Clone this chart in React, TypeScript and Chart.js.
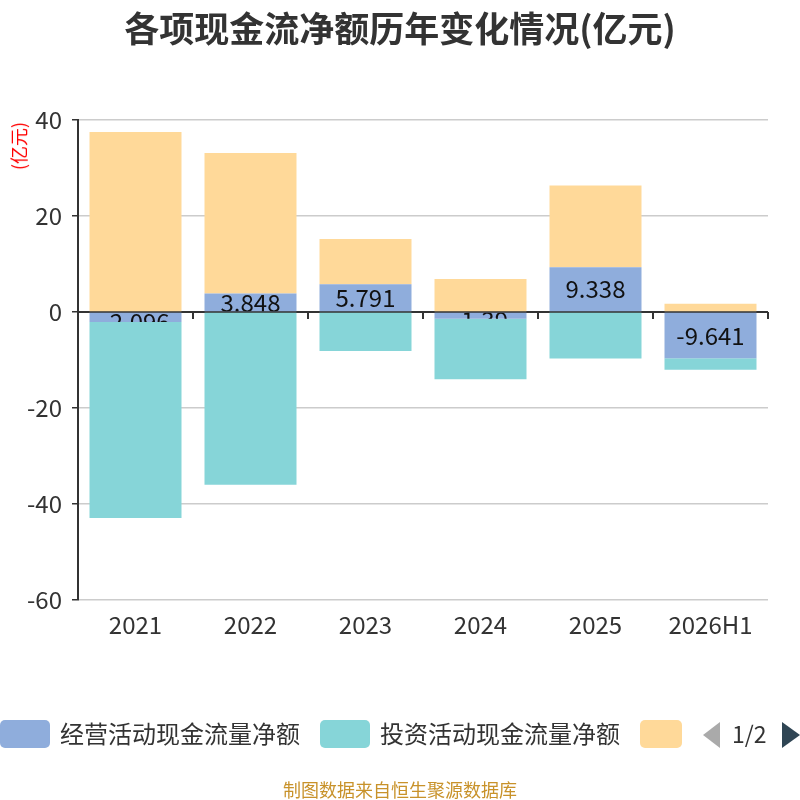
import React, { useEffect, useRef } from 'react';
import { Chart, registerables } from 'chart.js';

Chart.register(...registerables);

const years = ['2021', '2022', '2023', '2024', '2025', '2026H1'];
const operating = [-2.096, 3.848, 5.791, -1.39, 9.338, -9.641];
const investing = [-40.8, -36.0, -8.1, -12.6, -9.7, -2.4];
const financing = [37.5, 29.3, 9.4, 6.9, 17.0, 1.7];
const yTicks = [40, 20, 0, -20, -40, -60];

const seriesNames = ['经营活动现金流量净额', '投资活动现金流量净额', '筹资活动现金流量净额'];
const colors = ['#8FADDC', '#86D5D8', '#FFD999'];

const FONT = '"Noto Sans CJK SC", "Noto Sans", sans-serif';

const barLabels = {
    id: 'barLabels',
    afterDatasetsDraw(chart: any) {
        const ctx = chart.ctx;
        const meta = chart.getDatasetMeta(0);
        meta.data.forEach((bar: any, i: number) => {
            const top = Math.min(bar.y, bar.base);
            const h = Math.abs(bar.y - bar.base);
            ctx.save();
            ctx.beginPath();
            ctx.rect(bar.x - bar.width / 2, top, bar.width, h);
            ctx.clip();
            ctx.fillStyle = '#111';
            ctx.font = '24px ' + FONT;
            ctx.textAlign = 'center';
            ctx.textBaseline = 'middle';
            ctx.fillText(String(operating[i]), bar.x, top + h / 2 + (h < 15 ? 4 : 0));
            ctx.restore();
        });
    },
};

const zeroLine = {
    id: 'zeroLine',
    beforeDatasetsDraw(chart: any) {
        const ctx = chart.ctx;
        const area = chart.chartArea;
        const y0 = chart.scales.y.getPixelForValue(0);
        ctx.save();
        ctx.strokeStyle = '#333';
        ctx.lineWidth = 2;
        ctx.beginPath();
        ctx.moveTo(area.left, y0);
        ctx.lineTo(area.right, y0);
        const step = (area.right - area.left) / years.length;
        for (let i = 1; i <= years.length; i++) {
            const x = Math.round(area.left + step * i);
            ctx.moveTo(x, y0);
            ctx.lineTo(x, y0 + 7);
        }
        ctx.stroke();
        ctx.restore();
    },
};

const App: React.FC = () => {
    const chartRef = useRef<HTMLCanvasElement | null>(null);

    useEffect(() => {
        if (!chartRef.current) return;
        const ctx = chartRef.current.getContext('2d');
        if (!ctx) return;
        const chart = new Chart(ctx, {
            type: 'bar',
            data: {
                labels: years,
                datasets: [operating, investing, financing].map((d, i) => ({
                    label: seriesNames[i],
                    data: d,
                    backgroundColor: colors[i],
                    borderWidth: 0,
                    categoryPercentage: 0.8,
                    barPercentage: 1,
                })),
            },
            options: {
                animation: false,
                responsive: false,
                maintainAspectRatio: false,
                layout: { padding: { left: 0, right: 32, top: 120, bottom: 0 } },
                plugins: {
                    legend: { display: false },
                    tooltip: { enabled: false },
                },
                scales: {
                    x: {
                        stacked: true,
                        grid: { display: false, drawTicks: false },
                        border: { display: false },
                        ticks: { color: '#333', font: { size: 24, family: FONT }, padding: 10 },
                        afterFit: (s: any) => {
                            s.height = 200;
                        },
                    },
                    y: {
                        stacked: true,
                        min: -60,
                        max: 40,
                        afterBuildTicks: (s: any) => {
                            s.ticks = yTicks.map((v) => ({ value: v }));
                        },
                        grid: { color: '#cccccc', lineWidth: 1.5, tickColor: '#333', tickLength: 6 },
                        border: { display: true, color: '#333', width: 2 },
                        ticks: { color: '#333', font: { size: 24, family: FONT }, padding: 10 },
                        afterFit: (s: any) => {
                            s.width = 78;
                        },
                    },
                },
            },
            plugins: [zeroLine, barLabels],
        });
        return () => {
            chart.destroy();
        };
    }, []);

    const legendText: React.CSSProperties = {
        position: 'absolute',
        top: 717,
        fontSize: 24,
        color: '#333',
        fontFamily: FONT,
        lineHeight: '32px',
        whiteSpace: 'nowrap',
    };
    const box = (left: number, width: number, color: string): React.CSSProperties => ({
        position: 'absolute',
        left,
        top: 720,
        width,
        height: 28,
        background: color,
        borderRadius: 5,
    });

    return (
        <div style={{ position: 'fixed', left: 0, top: 0, width: 800, height: 800, background: '#fff', overflow: 'hidden' }}>
            <canvas ref={chartRef} width={800} height={800} style={{ position: 'absolute', left: 0, top: 0 }} />
            <div
                style={{
                    position: 'absolute',
                    top: 1,
                    left: 0,
                    width: 800,
                    textAlign: 'center',
                    fontSize: 35,
                    fontWeight: 'bold',
                    color: '#333',
                    fontFamily: FONT,
                }}
            >
                各项现金流净额历年变化情况(亿元)
            </div>
            <div
                style={{
                    position: 'absolute',
                    left: 18,
                    top: 146,
                    transform: 'translate(-50%, -50%) rotate(-90deg)',
                    fontSize: 18,
                    color: '#ff0000',
                    fontFamily: FONT,
                    whiteSpace: 'nowrap',
                }}
            >
                (亿元)
            </div>
            <div style={box(0, 50, colors[0])} />
            <div style={{ ...legendText, left: 60 }}>{seriesNames[0]}</div>
            <div style={box(320, 50, colors[1])} />
            <div style={{ ...legendText, left: 380 }}>{seriesNames[1]}</div>
            <div style={box(640, 42, colors[2])} />
            <div
                style={{
                    position: 'absolute',
                    left: 703,
                    top: 722,
                    width: 0,
                    height: 0,
                    borderTop: '13px solid transparent',
                    borderBottom: '13px solid transparent',
                    borderRight: '17px solid #aaa',
                }}
            />
            <div style={{ ...legendText, left: 732, fontSize: 23 }}>1/2</div>
            <div
                style={{
                    position: 'absolute',
                    left: 782,
                    top: 722,
                    width: 0,
                    height: 0,
                    borderTop: '13px solid transparent',
                    borderBottom: '13px solid transparent',
                    borderLeft: '18px solid #2F4554',
                }}
            />
            <div
                style={{
                    position: 'absolute',
                    top: 776,
                    left: 0,
                    width: 800,
                    textAlign: 'center',
                    fontSize: 18,
                    color: '#C8922A',
                    fontFamily: FONT,
                }}
            >
                制图数据来自恒生聚源数据库
            </div>
        </div>
    );
};

export default App;
